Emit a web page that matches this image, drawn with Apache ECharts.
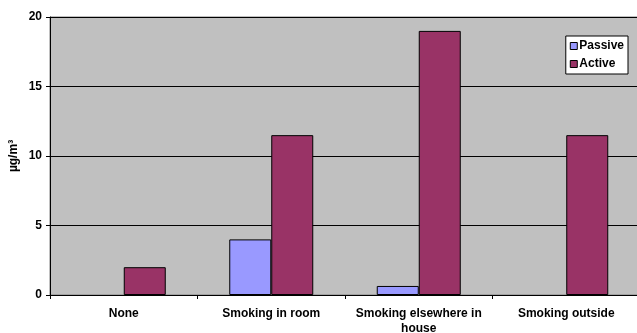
<!DOCTYPE html>
<html><head><meta charset="utf-8">
<script src="https://cdn.jsdelivr.net/npm/echarts@6/dist/echarts.min.js"></script>
<style>html,body{margin:0;padding:0;background:#fff}#c{width:637px;height:333px}</style>
</head><body><div id="c"></div>
<script>
var categories = ['None', 'Smoking in room', 'Smoking elsewhere in\nhouse', 'Smoking outside'];
var passive = [null, 4.0, 0.65, null];
var active = [2.0, 11.5, 19.0, 11.5];
var yTicks = [0, 5, 10, 15, 20];

var chart = echarts.init(document.getElementById('c'), null, {renderer: 'canvas'});
var font = 'Liberation Sans, Arial, sans-serif';
chart.setOption({
  animation: false,
  backgroundColor: '#fff',
  grid: {left: 50, right: -3, top: 17, bottom: 38, outerBoundsMode: 'none', containLabel: false,
         backgroundColor: '#C0C0C0', show: true, borderColor: '#808080', borderWidth: 1},
  legend: {
    data: ['Passive', 'Active'], orient: 'vertical', right: 9, top: 36,
    backgroundColor: '#fff', borderColor: '#000', borderWidth: 1, padding: [4, 4, 4, 4],
    itemWidth: 7, itemHeight: 7, itemGap: 6, icon: 'rect',
    itemStyle: {borderColor: '#000', borderWidth: 1},
    textStyle: {fontFamily: font, fontWeight: 'bold', fontSize: 12, color: '#000', padding: [0, 0, 0, -3]}
  },
  xAxis: {
    type: 'category', data: categories,
    axisLine: {lineStyle: {color: '#000', width: 1}},
    axisTick: {show: true, alignWithLabel: false, length: 4, lineStyle: {color: '#000'}},
    axisLabel: {fontFamily: font, fontWeight: 'bold', fontSize: 12, color: '#000', margin: 11, lineHeight: 15, interval: 0}
  },
  yAxis: {
    type: 'value', min: yTicks[0], max: yTicks[yTicks.length - 1], interval: 5,
    name: 'µg/m³', nameLocation: 'middle', nameGap: 30, nameRotate: 90, nameMoveOverlap: false,
    nameTextStyle: {fontFamily: font, fontWeight: 'bold', fontSize: 12, color: '#000'},
    axisLine: {show: true, lineStyle: {color: '#000', width: 1}},
    axisTick: {show: true, length: 4, inside: false, lineStyle: {color: '#000'}},
    axisLabel: {fontFamily: font, fontWeight: 'bold', fontSize: 12, color: '#000', margin: 8},
    splitLine: {show: true, lineStyle: {color: '#000', width: 1}}
  },
  series: [
    {name: 'Passive', type: 'bar', data: passive, barWidth: 42, barGap: '0%',
     itemStyle: {color: '#9999FF', borderColor: '#000', borderWidth: 1}},
    {name: 'Active', type: 'bar', data: active, barWidth: 42, barGap: '0%',
     itemStyle: {color: '#993366', borderColor: '#000', borderWidth: 1}}
  ]
});
</script></body></html>
